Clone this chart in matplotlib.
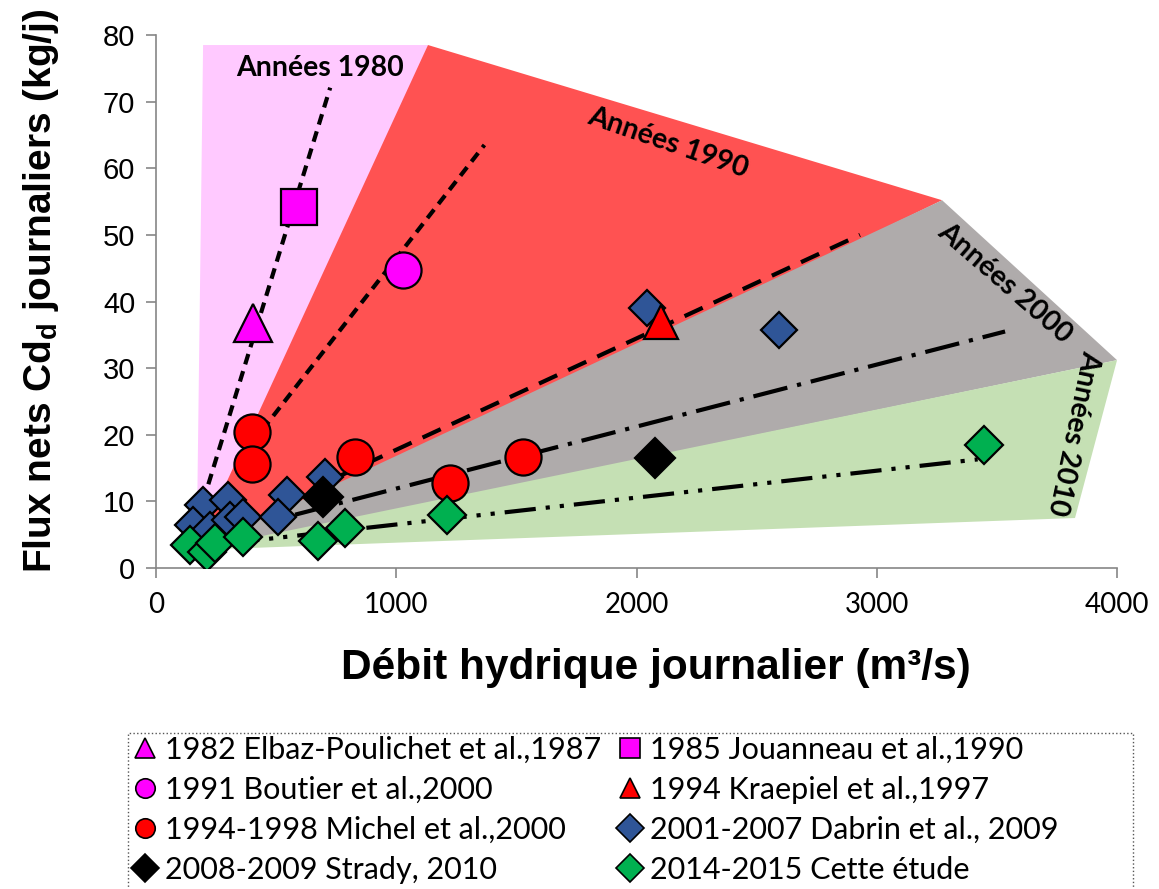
import matplotlib
matplotlib.use("Agg")
import matplotlib.pyplot as plt
from matplotlib import font_manager
from matplotlib.lines import Line2D
from matplotlib.patches import Polygon, Rectangle

# --- data ---
# point series (debit m3/s, flux kg/j)
elbaz_x = [404]
elbaz_y = [36.8]
jouanneau_x = [595]
jouanneau_y = [54.2]
boutier_x = [1028]
boutier_y = [44.7]
kraepiel_x = [2102]
kraepiel_y = [36.9]
michel_x = [400, 400, 828, 1224, 1528]
michel_y = [20.4, 15.6, 16.7, 12.8, 16.7]
dabrin_x = [196, 300, 154, 225, 308, 362, 545, 508, 703, 2044, 2593]
dabrin_y = [9.5, 10.2, 6.45, 5.7, 7.2, 7.65, 11.0, 7.65, 13.7, 39.0, 35.7]
strady_x = [695, 2077]
strady_y = [10.7, 16.5]
etude_x = [141, 212, 245, 362, 674, 787, 1211, 3447]
etude_y = [3.45, 2.4, 3.75, 4.65, 4.05, 6.0, 8.0, 18.5]

# trend lines per decade
trend80_x = [196, 725]
trend80_y = [10.0, 72.1]
trend90_x = [442, 1367]
trend90_y = [20.7, 63.5]
trend90b_x = [746, 2930]
trend90b_y = [13.5, 50.0]
trend00_x = [579, 3534]
trend00_y = [8.0, 35.5]
trend10_x = [300, 3420]
trend10_y = [3.7, 16.3]

# shaded decade zones
zone80_x = [170, 196, 1132, 300]
zone80_y = [5.0, 78.5, 78.5, 5.0]
zone90_x = [193, 1132, 3272, 400]
zone90_y = [5.0, 78.5, 55.2, 5.0]
zone00_x = [300, 3272, 4000, 300]
zone00_y = [5.0, 55.2, 31.2, 3.5]
zone10_x = [300, 4000, 3825, 391, 300]
zone10_y = [3.75, 31.2, 7.5, 3.0, 2.9]

avail = {f.name for f in font_manager.fontManager.ttflist}
NARROW = "Liberation Sans Narrow" if "Liberation Sans Narrow" in avail else "Lato"
ARIAL = "Liberation Sans"
CAL = "Lato"

plt.rcParams["mathtext.fontset"] = "custom"
plt.rcParams["mathtext.rm"] = ARIAL
plt.rcParams["mathtext.bf"] = ARIAL + ":bold"

fig = plt.figure(figsize=(11.59, 8.89), dpi=100)
ax = fig.add_axes([0.1346, 0.3611, 0.8292, 0.5995])

zones = [
    (zone80_x, zone80_y, "#FFC9FF"),
    (zone90_x, zone90_y, "#FF5252"),
    (zone00_x, zone00_y, "#AFABAB"),
    (zone10_x, zone10_y, "#C5E0B4"),
]
for zx, zy, col in zones:
    ax.add_patch(Polygon(list(zip(zx, zy)), closed=True, facecolor=col,
                         edgecolor="none", zorder=1))

ax.plot(trend80_x, trend80_y, color="black", lw=3, ls=(0, (2.6, 1.7)), zorder=2)
ax.plot(trend90_x, trend90_y, color="black", lw=3, ls=(0, (2.6, 1.7)), zorder=2)
ax.plot(trend90b_x, trend90b_y, color="black", lw=3, ls=(0, (4.8, 2.9)), zorder=2)
ax.plot(trend00_x, trend00_y, color="black", lw=3, ls=(0, (8.4, 2.4, 1, 2.4)), zorder=2)
ax.plot(trend10_x, trend10_y, color="black", lw=3,
        ls=(0, (7.5, 2.4, 1, 2.4, 1, 2.4)), zorder=2)

ew = 1.6
# (x, y, marker, colour, size, label, zorder)
series = [
    (elbaz_x, elbaz_y, "^", "#FF00FF", 27, "1982 Elbaz-Poulichet et al.,1987", 3),
    (jouanneau_x, jouanneau_y, "s", "#FF00FF", 25.5, "1985 Jouanneau et al.,1990", 3),
    (boutier_x, boutier_y, "o", "#FF00FF", 26, "1991 Boutier et al.,2000", 3),
    (kraepiel_x, kraepiel_y, "^", "#FF0000", 24, "1994 Kraepiel et al.,1997", 6),
    (michel_x, michel_y, "o", "#FF0000", 26, "1994-1998 Michel et al.,2000", 4),
    (dabrin_x, dabrin_y, "D", "#2F5597", 18.5, "2001-2007 Dabrin et al., 2009", 5),
    (strady_x, strady_y, "D", "#000000", 20.5, "2008-2009 Strady, 2010", 7),
    (etude_x, etude_y, "D", "#00B050", 19, "2014-2015 Cette étude", 8),
]
handles = {}
for sx, sy, mk, col, ms, lab, z in series:
    ax.plot(sx, sy, ls="none", marker=mk, ms=ms, mfc=col, mec="black",
            mew=ew, zorder=z)
    handles[lab] = Line2D([], [], ls="none", marker=mk, ms=14, mfc=col,
                          mec="black", mew=1.2)

txt = dict(fontfamily=CAL, fontweight="bold", fontsize=20.5, color="black",
           ha="center", va="center", rotation_mode="anchor", zorder=20)
ax.text(683, 75.0, "Années 1980", **txt)
ax.text(2131, 63.9, "Années 1990", rotation=-19, **txt)
ax.text(3534, 42.8, "Années 2000", rotation=-41, **txt)
ax.text(3817, 20.3, "Années 2010", rotation=-102, **txt)

ax.set_xlim(0, 4000)
ax.set_ylim(0, 80)
ax.set_xticks([0, 1000, 2000, 3000, 4000])
ax.set_yticks(range(0, 81, 10))
for s in ["top", "right"]:
    ax.spines[s].set_visible(False)
for s in ["left", "bottom"]:
    ax.spines[s].set_color("#868686")
    ax.spines[s].set_linewidth(1.2)
ax.tick_params(axis="both", direction="out", length=7, width=1.2, color="#868686")
ax.tick_params(axis="y", labelsize=21, pad=8)
ax.tick_params(axis="x", labelsize=20, pad=10)
for lbl in ax.get_yticklabels():
    lbl.set_fontfamily(ARIAL)
for lbl in ax.get_xticklabels():
    lbl.set_fontfamily(NARROW)

fig.text(0.566, 0.2486, "Débit hydrique journalier (m³/s)", fontfamily=ARIAL,
         fontweight="bold", fontsize=30.5, ha="center", va="center")
fig.text(0.035, 0.6727, r"Flux nets Cd$_{\mathbf{d}}$ journaliers (kg/j)",
         fontfamily=ARIAL, fontweight="bold", fontsize=28, rotation=90,
         ha="center", va="center")

order = [s[5] for s in series]
col1 = [order[0], order[2], order[4], order[6]]
col2 = [order[1], order[3], order[5], order[7]]
labs = col1 + col2
fig.legend([handles[l] for l in labs], labs, loc="upper left",
           bbox_to_anchor=(0.1125, 0.1755), ncol=2, frameon=False,
           borderaxespad=0, handlelength=0.8,
           handletextpad=0.25, columnspacing=0.55, labelspacing=0.4,
           borderpad=0.08, prop={"family": NARROW, "size": 22})
# dotted legend box, running off the bottom edge like the original
fig.add_artist(Rectangle((0.1104, -0.02), 0.8671, 0.1955, transform=fig.transFigure,
                         fill=False, edgecolor="#555555", linestyle=":",
                         linewidth=1.0))

fig.savefig("out.png", dpi=100)
